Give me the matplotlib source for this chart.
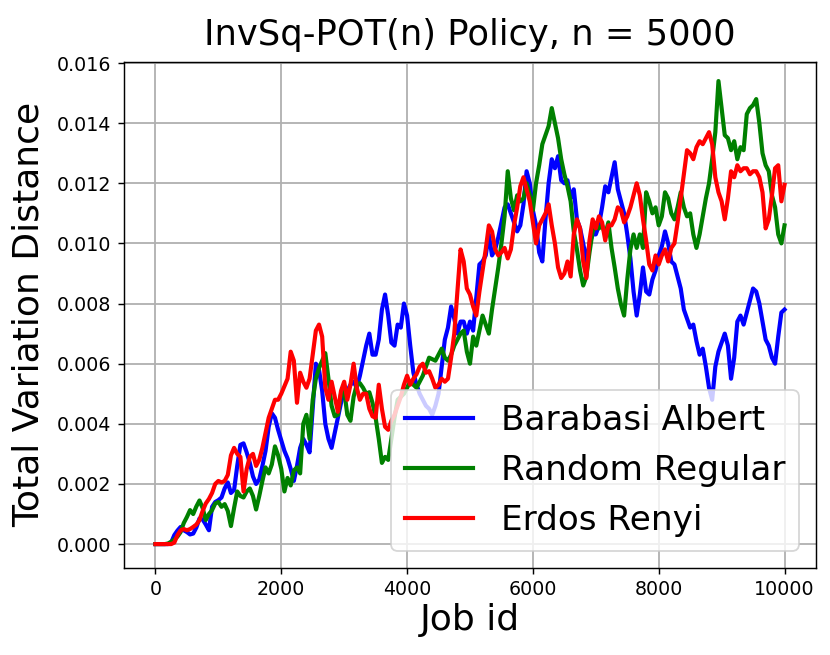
import matplotlib
matplotlib.use("Agg")
import matplotlib.pyplot as plt
import numpy as np

# Job ids sampled every 50 jobs
jobs = list(range(0, 10001, 50))

# Total variation distance values, in units of 1e-3
barabasi_albert = [
    0, 0, 0, 0, 0, 0.05, 0.3, 0.45, 0.57, 0.46,
    0.4, 0.32, 0.35, 0.55, 0.85, 0.82, 0.65, 0.46, 1.24, 1.4,
    1.46, 1.55, 1.85, 2.05, 1.7, 1.8, 2.6, 3.3, 3.35, 3.05,
    2.7, 2.25, 2.0, 2.15, 2.6, 3.1, 3.9, 4.35, 4.2, 3.8,
    3.45, 3.1, 2.85, 2.5, 2.1, 2.6, 3.2, 3.5, 3.3, 3.05,
    4.5, 6.0, 5.8, 5.1, 4.0, 3.5, 3.2, 3.7, 4.2, 4.7,
    5.1, 5.1, 5.3, 5.4, 5.2, 5.6, 6.1, 6.6, 7.0, 6.3,
    6.3, 6.8, 7.8, 8.3, 7.6, 6.7, 6.6, 7.3, 7.2, 8.0,
    7.6, 6.6, 5.7, 5.3, 5.0, 4.8, 4.6, 4.5, 4.3, 4.6,
    5.0, 5.9, 6.8, 7.2, 7.9, 7.5, 7.0, 7.4, 7.4, 7.0,
    7.4, 7.1, 8.2, 9.3, 9.4, 9.6, 10.3, 9.6, 9.8, 10.2,
    10.7, 11.2, 11.3, 11.0, 10.7, 10.4, 10.6, 11.3, 12.4, 12.0,
    11.1, 10.6, 9.7, 9.4, 10.8, 12.0, 12.8, 12.5, 12.9, 12.1,
    12.0, 12.1, 11.5, 11.8, 10.8, 10.5, 10.0, 9.4, 10.0, 10.3,
    10.3, 10.6, 11.2, 11.9, 11.7, 12.2, 12.7, 11.8, 11.4, 11.0,
    10.3, 9.5, 8.4, 7.6, 8.3, 9.2, 8.4, 8.3, 8.8, 9.1,
    9.6, 9.9, 10.4, 10.0, 9.4, 9.3, 8.9, 8.5, 7.8, 7.5,
    7.2, 7.3, 6.75, 6.3, 6.5, 5.9, 5.2, 4.8, 5.9, 6.4,
    6.7, 7.0, 6.6, 5.5, 6.2, 7.4, 7.6, 7.3, 7.7, 8.1,
    8.5, 8.4, 8.0, 7.4, 6.8, 6.6, 6.2, 6.0, 6.9, 7.7,
    7.8,
]

random_regular = [
    0, 0, 0, 0, 0.02, 0.08, 0.15, 0.25, 0.4, 0.7,
    0.9, 1.13, 1.0, 1.25, 1.45, 1.2, 0.8, 1.0, 1.13, 1.35,
    1.4, 1.24, 1.33, 1.1, 0.6, 1.2, 1.75, 1.6, 1.55, 1.75,
    1.85, 1.6, 1.15, 1.6, 2.1, 2.55, 2.35, 2.65, 3.25, 2.95,
    2.5, 1.75, 2.2, 1.95, 2.45, 2.55, 2.35, 4.0, 4.3, 3.5,
    4.8, 5.5, 5.85, 6.1, 6.35, 5.5, 4.6, 4.25, 4.3, 5.0,
    5.1, 4.3, 4.1, 4.9, 5.3, 5.35, 5.2, 5.0, 5.05, 4.7,
    4.2, 3.5, 2.7, 2.9, 2.8, 3.5, 4.2, 4.8, 4.9, 5.0,
    5.2, 5.4, 5.3, 5.2, 5.4, 5.6, 5.9, 6.2, 6.15, 6.1,
    6.3, 6.5, 6.2, 6.1, 6.3, 6.6, 6.8, 7.0, 7.1, 6.4,
    6.0, 6.9, 6.6, 7.1, 7.6, 7.3, 7.0, 7.8, 8.5, 9.2,
    10.0, 10.9, 12.4, 11.5, 11.1, 11.6, 11.4, 11.5, 12.0, 11.6,
    11.1, 12.0, 12.6, 13.3, 13.6, 13.9, 14.5, 14.0, 13.5, 12.8,
    12.3, 11.9, 11.4, 10.4, 9.8, 9.1, 8.6, 8.9, 9.7, 10.4,
    10.6, 10.5, 10.6, 10.3, 10.7, 9.85, 9.2, 8.5, 7.97, 7.6,
    8.8, 9.8, 10.3, 9.85, 10.3, 9.85, 11.7, 11.4, 11.0, 11.2,
    10.6, 10.9, 11.7, 11.5, 11.0, 10.8, 11.2, 11.7, 11.2, 10.9,
    11.0, 10.3, 9.85, 10.3, 10.9, 11.5, 12.0, 12.8, 13.7, 15.4,
    14.5, 13.6, 13.5, 13.1, 13.4, 12.8, 13.2, 13.1, 14.3, 14.5,
    14.6, 14.8, 14.0, 13.0, 12.6, 12.4, 11.6, 11.2, 10.3, 10.0,
    10.6,
]

erdos_renyi = [
    0, 0, 0, 0, 0, 0, 0.05, 0.3, 0.46, 0.5,
    0.46, 0.5, 0.57, 0.65, 0.8, 1.1, 1.35, 1.5, 1.7, 2.0,
    2.1, 2.05, 2.1, 2.3, 2.95, 3.2, 3.0, 2.9, 1.75, 2.5,
    2.9, 3.0, 2.6, 2.8, 3.2, 3.7, 4.2, 4.5, 4.8, 4.8,
    5.0, 5.25, 5.5, 6.4, 6.1, 4.7, 5.7, 5.4, 5.2, 5.5,
    6.3, 7.1, 7.3, 6.9, 5.2, 4.8, 5.4, 4.9, 4.4, 5.1,
    5.4, 4.8, 5.3, 6.0, 5.2, 4.8, 5.0, 5.0, 4.5, 4.25,
    4.2, 5.3, 4.5, 3.9, 3.8, 4.1, 4.3, 4.6, 4.9, 5.3,
    5.6, 5.3, 5.5, 5.65, 5.9, 6.0, 5.7, 5.75, 5.5, 5.2,
    5.3, 5.5, 5.4, 5.5, 6.2, 7.0, 8.4, 9.8, 9.4, 8.5,
    8.3, 7.9, 7.6, 8.4, 9.1, 9.8, 10.6, 10.4, 9.8, 9.6,
    9.7, 9.85, 9.5, 9.8, 10.6, 11.2, 11.9, 12.2, 11.8, 11.4,
    10.7, 10.0, 10.6, 10.8, 11.0, 11.3, 10.6, 10.0, 9.2, 8.85,
    9.0, 9.4, 8.9, 10.3, 10.8, 10.5, 9.4, 8.85, 10.1, 10.8,
    10.5, 10.9, 10.7, 10.1, 10.6, 10.6, 10.8, 11.2, 11.1, 10.7,
    10.9, 11.2, 11.6, 12.0, 11.6, 10.8, 10.1, 9.3, 9.1, 9.6,
    9.3, 9.6, 9.8, 9.4, 9.85, 10.0, 10.7, 11.5, 12.3, 13.1,
    13.0, 12.8, 13.2, 13.4, 13.3, 13.5, 13.7, 13.3, 12.2, 11.7,
    11.4, 10.8, 11.5, 12.4, 12.2, 12.6, 12.4, 12.5, 12.5, 12.3,
    12.4, 12.4, 12.2, 11.7, 10.5, 10.8, 11.6, 12.5, 12.6, 11.4,
    11.95,
]

series_names = ["Barabasi Albert", "Random Regular", "Erdos Renyi"]
series_colors = ["blue", "green", "red"]
unit = 1e-3

fig = plt.figure(figsize=(830 / 130, 655 / 130), dpi=130)
ax = fig.add_axes([0.1494, 0.1333, 0.8337, 0.7728])

for name, vals, col in zip(series_names,
                           [barabasi_albert, random_regular, erdos_renyi],
                           series_colors):
    ax.plot(jobs, np.array(vals) * unit, color=col, linewidth=2.3, label=name)

ax.set_xlim(-500, 10500)
ax.set_ylim(-0.000785, 0.01605)
ax.set_xticks([0, 2000, 4000, 6000, 8000, 10000])
ax.set_yticks([0.000, 0.002, 0.004, 0.006, 0.008, 0.010, 0.012, 0.014, 0.016])
ax.tick_params(labelsize=10.5)
ax.grid(True, linewidth=1.0)
ax.set_title("InvSq-POT(n) Policy, n = 5000", fontsize=19.5, pad=9)
ax.set_xlabel("Job id", fontsize=20, labelpad=2)
ax.set_ylabel("Total Variation Distance", fontsize=20, labelpad=6)
ax.legend(loc="lower right", fontsize=19, handlelength=2.0)

fig.savefig("out.png", dpi=130)
